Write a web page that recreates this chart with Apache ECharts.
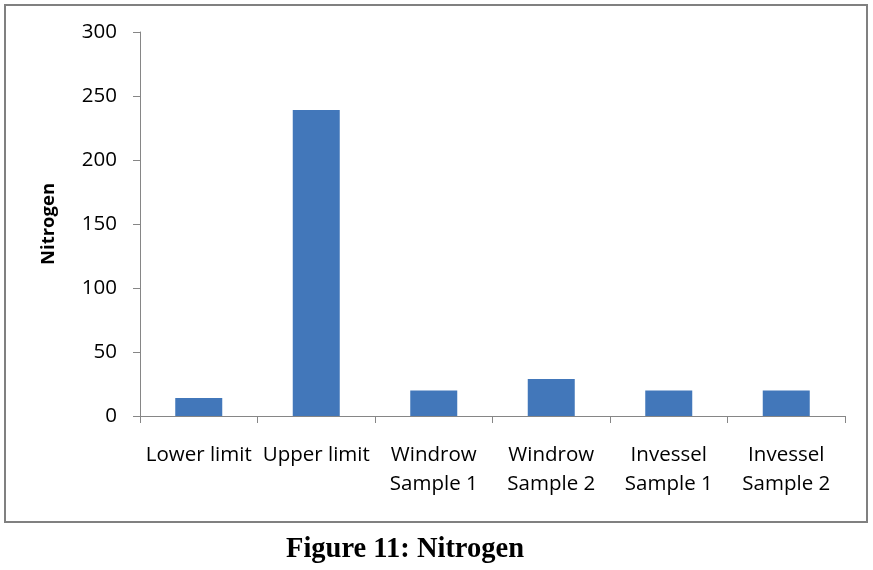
<!DOCTYPE html>
<html>
<head>
<meta charset="utf-8">
<script src="https://cdn.jsdelivr.net/npm/echarts@6/dist/echarts.min.js"></script>
<style>
  html, body { margin: 0; padding: 0; background: #fff; }
  #chart { width: 873px; height: 570px; }
</style>
</head>
<body>
<div id="chart"></div>
<script>
// data
const categories = ['Lower limit', 'Upper limit', 'Windrow\nSample 1', 'Windrow\nSample 2', 'Invessel\nSample 1', 'Invessel\nSample 2'];
const nitrogen = [14, 239, 20, 29, 20, 20];
const yTicks = [0, 50, 100, 150, 200, 250, 300];

var chart = echarts.init(document.getElementById('chart'));
var labelFont = '"Open Sans", "DejaVu Sans", sans-serif';

var option = {
  animation: false,
  backgroundColor: '#fff',
  graphic: [
    {
      type: 'rect',
      shape: { x: 5, y: 5, width: 862, height: 517 },
      style: { fill: 'none', stroke: '#808080', lineWidth: 2 }
    },
    {
      // caption sits a bit left of page centre in the original
      type: 'text',
      left: 286,
      top: 535,
      style: {
        text: 'Figure 11: Nitrogen',
        font: 'bold 28.5px "Liberation Serif", serif',
        fill: '#000'
      }
    }
  ],
  grid: { left: 140, right: 28, top: 32, bottom: 154, containLabel: false },
  xAxis: {
    type: 'category',
    data: categories,
    axisLine: { lineStyle: { color: '#868686', width: 1 } },
    axisTick: { show: true, length: 7, lineStyle: { color: '#868686' } },
    axisLabel: {
      color: '#000',
      fontSize: 20.5,
      fontFamily: labelFont,
      margin: 25,
      lineHeight: 29,
      interval: 0
    }
  },
  yAxis: {
    type: 'value',
    min: yTicks[0],
    max: yTicks[yTicks.length - 1],
    interval: 50,
    name: 'Nitrogen',
    nameLocation: 'middle',
    nameGap: 82,
    nameRotate: 90,
    nameTextStyle: { color: '#000', fontSize: 18.5, fontWeight: 'bold', fontFamily: labelFont },
    axisLine: { show: true, lineStyle: { color: '#868686', width: 1 } },
    axisTick: { show: true, length: 7, lineStyle: { color: '#868686' } },
    splitLine: { show: false },
    axisLabel: { color: '#000', fontSize: 20.5, fontFamily: labelFont, margin: 23 }
  },
  series: [{
    type: 'bar',
    data: nitrogen,
    barWidth: '40%',
    itemStyle: { color: '#4277BA' }
  }]
};

chart.setOption(option);
</script>
</body>
</html>
